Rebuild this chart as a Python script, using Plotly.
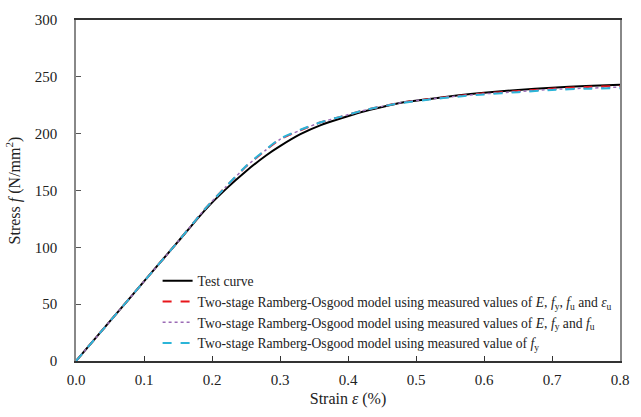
import plotly.graph_objects as go

# Strain (%) and stress (N/mm^2)
strain_test = [0.0, 0.05, 0.10, 0.15, 0.19, 0.22, 0.25, 0.28, 0.30, 0.33, 0.36, 0.39,
               0.42, 0.45, 0.48, 0.52, 0.56, 0.60, 0.65, 0.70, 0.75, 0.80]
stress_test = [0, 35, 70, 105, 133, 151, 167, 181, 189, 199.5, 207.5, 213.5,
               219, 223.5, 227.5, 230.5, 233.5, 236, 238.5, 240.5, 242, 243]

strain_model = [0.0, 0.05, 0.10, 0.15, 0.19, 0.22, 0.25, 0.28, 0.30, 0.33, 0.36, 0.39,
                0.42, 0.45, 0.48, 0.52, 0.56, 0.60, 0.65, 0.70, 0.75, 0.80]
stress_model_a = [0, 35, 70, 105, 134, 153, 171, 186, 195, 203, 210, 215,
                  220, 224, 227.5, 230.5, 233, 235.5, 237.5, 239.5, 241, 242]
stress_model_b = [0, 35, 70, 105, 134, 153, 171, 186, 195, 203, 210, 215,
                  220, 224, 227.5, 230.5, 233, 235, 237, 239, 240, 241]
stress_model_c = [0, 35, 70, 105, 134, 153, 171.5, 186.5, 195.5, 203.5, 210, 215,
                  220, 224, 227, 230, 232.5, 234.5, 236.5, 238.5, 239.5, 240]

names = [
    "Test curve",
    "Two-stage Ramberg-Osgood model using measured values of <i>E</i>, <i>f</i><sub>y</sub>, <i>f</i><sub>u</sub> and <i>ε</i><sub>u</sub>",
    "Two-stage Ramberg-Osgood model using measured values of <i>E</i>, <i>f</i><sub>y</sub> and <i>f</i><sub>u</sub>",
    "Two-stage Ramberg-Osgood model using measured value of <i>f</i><sub>y</sub>",
]

font = "Liberation Serif, Times New Roman, serif"

fig = go.Figure()
fig.add_trace(go.Scatter(x=strain_test, y=stress_test, mode="lines", name=names[0],
                         line=dict(color="black", width=2, shape="spline", smoothing=0.6)))
fig.add_trace(go.Scatter(x=strain_model, y=stress_model_a, mode="lines", name=names[1],
                         line=dict(color="#e8161b", width=2, dash="dash", shape="spline", smoothing=0.6)))
fig.add_trace(go.Scatter(x=strain_model, y=stress_model_b, mode="lines", name=names[2],
                         line=dict(color="#9b6bb5", width=1.5, dash="dot", shape="spline", smoothing=0.6)))
fig.add_trace(go.Scatter(x=strain_model, y=stress_model_c, mode="lines", name=names[3],
                         line=dict(color="#2bb5d8", width=2, dash="dash", shape="spline", smoothing=0.6)))

fig.update_layout(
    width=641, height=417,
    margin=dict(l=76, r=19, t=13, b=55),
    paper_bgcolor="white", plot_bgcolor="white",
    font=dict(family=font, size=15, color="#222"),
    showlegend=True,
    legend=dict(x=0.15, y=0.28, xanchor="left", yanchor="top",
                bgcolor="rgba(0,0,0,0)", font=dict(size=13.6, family=font, color="#222"),
                itemwidth=30, tracegroupgap=0),
)
fig.update_xaxes(range=[0, 0.8], dtick=0.1, tickformat=".1f",
                 showgrid=False, zeroline=False,
                 showline=True, linecolor="#333", linewidth=1.5, mirror=True,
                 ticks="inside", ticklen=5, tickcolor="#333",
                 ticklabelstandoff=4,
                 title=dict(text="Strain <i>ε</i> (%)", standoff=6, font=dict(size=16)))
fig.update_yaxes(range=[0, 300], dtick=50,
                 showgrid=False, zeroline=False,
                 showline=True, linecolor="#888", linewidth=1.5, mirror=True,
                 ticks="inside", ticklen=5, tickcolor="#555",
                 ticklabelstandoff=14,
                 title=dict(text="Stress <i>f</i> (N/mm<sup>2</sup>)", standoff=10, font=dict(size=16)))

fig.write_html("out.html")
